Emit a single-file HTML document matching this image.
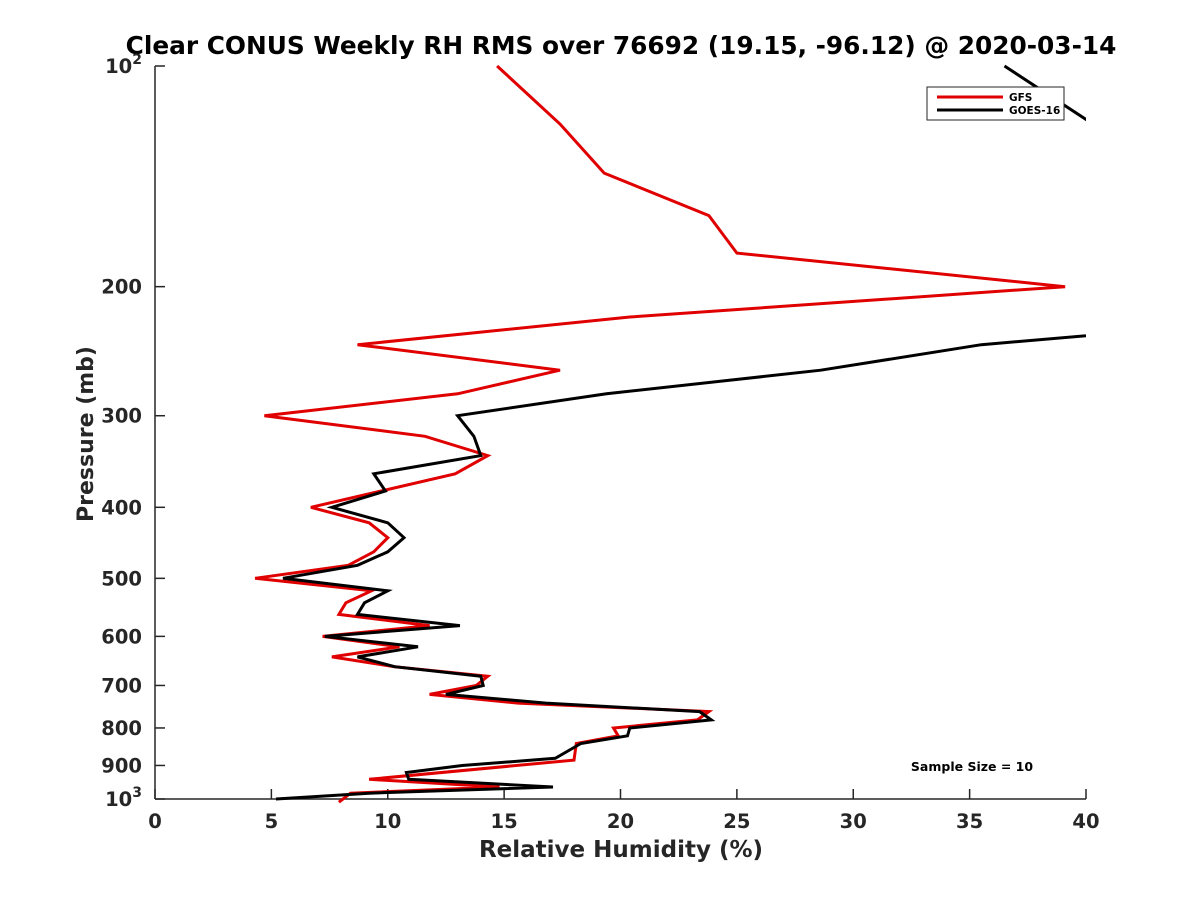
<!DOCTYPE html>
<html><head><meta charset="utf-8"><style>
html,body{margin:0;padding:0;background:#fff;}
svg{display:block;font-family:"DejaVu Sans","Liberation Sans",sans-serif;font-weight:bold;}
</style></head><body>
<svg id="chart" width="1200" height="900" viewBox="0 0 1200 900">
<defs><clipPath id="plotclip"><rect x="155" y="40" width="931" height="780"/></clipPath></defs>
<text x="621" y="54" text-anchor="middle" font-size="24.8" fill="#000">Clear CONUS Weekly RH RMS over 76692 (19.15, -96.12) @ 2020-03-14</text>
<g id="axes"></g>
<g id="series" clip-path="url(#plotclip)"></g>
<g>
<rect x="927" y="87" width="137" height="33" fill="#fff" stroke="#262626" stroke-width="1"/>
<line x1="937" y1="97" x2="1003" y2="97" stroke="#e00000" stroke-width="3"/>
<text x="1009" y="101" font-size="10.5" fill="#000">GFS</text>
<line x1="937" y1="110" x2="1003" y2="110" stroke="#000" stroke-width="3"/>
<text x="1009" y="114" font-size="10.5" fill="#000">GOES-16</text>
</g>
<text x="972" y="771" text-anchor="middle" font-size="12.5" fill="#000">Sample Size = 10</text>
<text x="621" y="857" text-anchor="middle" font-size="23" fill="#262626">Relative Humidity (%)</text>
<text transform="translate(93,434) rotate(-90)" text-anchor="middle" font-size="22" fill="#262626">Pressure (mb)</text>
</svg>
<script>
const gfsPressure = [100,120,140,160,180,200,220,240,260,280,300,320,340,360,400,420,440,460,480,500,520,540,560,580,600,620,640,660,680,700,720,740,760,780,800,820,840,885,940,963,982,1010];
const gfsRH = [14.7,17.4,19.3,23.8,25.0,39.1,20.4,8.7,17.4,13.0,4.7,11.6,14.3,12.9,6.7,9.2,10.0,9.4,8.3,4.3,9.3,8.2,7.9,11.8,7.2,10.5,7.6,10.3,14.3,13.8,11.8,15.6,23.8,23.3,19.7,19.9,18.1,18.0,9.2,14.8,8.4,7.9];
const goesPressure = [100,120,140,160,180,200,220,240,260,280,300,320,340,360,380,400,420,440,460,480,500,520,540,560,580,600,620,640,660,680,700,720,740,760,780,800,820,840,880,900,920,940,963,982,1000];
const goesRH = [36.5,40.3,48,48,48,48,49.4,35.5,28.6,19.4,13.0,13.7,14.0,9.4,9.9,7.6,10.0,10.7,10.0,8.7,5.5,10.0,9.0,8.7,13.1,7.3,11.3,8.7,10.3,14.0,14.1,12.5,16.8,23.4,23.9,20.4,20.3,18.3,17.2,13.2,10.8,10.9,17.1,9.2,5.2];
const xTicks = [0,5,10,15,20,25,30,35,40];
const yTicks = [100,200,300,400,500,600,700,800,900,1000];
const yTickLabels = ["10²","200","300","400","500","600","700","800","900","10³"];

const X0=155,X1=1086,Y0=66,Y1=799;
const xs = v => X0 + (v-0)/(40-0)*(X1-X0);
const ys = p => Y0 + (Math.log10(p)-2)*(Y1-Y0);
const NS="http://www.w3.org/2000/svg";
const axes=document.getElementById('axes');
function mk(tag,attrs,parent){const e=document.createElementNS(NS,tag);for(const k in attrs)e.setAttribute(k,attrs[k]);parent.appendChild(e);return e;}

const xl=mk('line',{x1:X0,y1:Y1,x2:X1,y2:Y1,stroke:'#262626','stroke-width':1.5},axes);


const yl=mk('line',{x1:X0,y1:Y0,x2:X0,y2:Y1,stroke:'#262626','stroke-width':1.5},axes);



xTicks.forEach(t=>{
  const x=xs(t);
  const tk=mk('line',{x1:x,y1:Y1,x2:x,y2:Y1-10,stroke:'#262626','stroke-width':1.5},axes);
  
  
  const lb=mk('text',{x:x,y:Y1+29,'text-anchor':'middle','font-size':19.5,fill:'#262626'},axes);
  lb.textContent=String(t);
  
  
});
yTicks.forEach((p,i)=>{
  const y=ys(p);
  const tk=mk('line',{x1:X0,y1:y,x2:X0+10,y2:y,stroke:'#262626','stroke-width':1.5},axes);
  
  
  const lb=mk('text',{x:X0-13,y:y+7,'text-anchor':'end','font-size':19.5,fill:'#262626'},axes);
  const s=yTickLabels[i];
  if(s.startsWith('10')&&s.length===3){
    lb.textContent='10';
    const sup=mk('tspan',{dy:-9,'font-size':14},lb);
    sup.textContent=s==='10²'?'2':'3';
  } else lb.textContent=s;
  
  
});

const series=document.getElementById('series');
function drawLine(P,V,color,name){
  const pts=P.map((p,i)=>xs(V[i]).toFixed(1)+','+ys(p).toFixed(1)).join(' ');
  const pl=mk('polyline',{points:pts,fill:'none',stroke:color,'stroke-width':3,'stroke-linejoin':'miter'},series);
  
  
}
drawLine(gfsPressure,gfsRH,'#e00000','gfs-line');
drawLine(goesPressure,goesRH,'#000000','goes16-line');
</script>
</body></html>
